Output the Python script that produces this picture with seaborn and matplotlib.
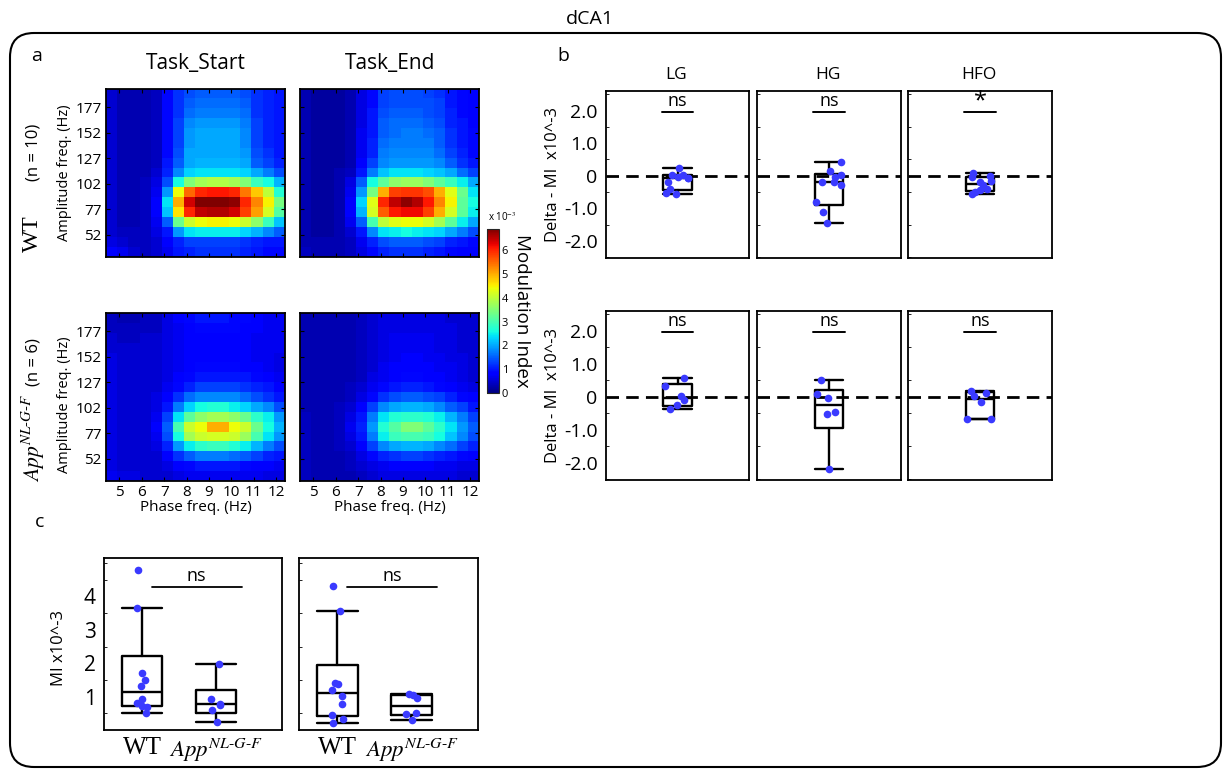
import numpy as np
import pandas as pd
import matplotlib
matplotlib.use("Agg")
import matplotlib.pyplot as plt
import seaborn as sns
from matplotlib.patches import FancyBboxPatch
from matplotlib.transforms import IdentityTransform

# ---------------- data ----------------
phase_ticks = [5, 6, 7, 8, 9, 10, 11, 12]
amp_ticks = [177, 152, 127, 102, 77, 52]
phase_range = (4.4, 12.4)
amp_range = (30, 195)

# comodulograms (rows: high -> low amplitude freq, cols: low -> high phase freq), MI x10^-3
wt_start = [
    [0.5,0.3,0.3,0.3,0.4,0.9,1.2,1.4,1.5,1.5,1.5,1.5,1.4,1.2,1.1,1.0],
    [0.5,0.3,0.3,0.3,0.4,0.9,1.2,1.5,1.6,1.6,1.6,1.6,1.5,1.2,1.1,1.0],
    [0.5,0.3,0.3,0.3,0.4,0.9,1.2,1.6,1.7,1.7,1.7,1.7,1.6,1.2,1.1,1.0],
    [0.5,0.3,0.3,0.3,0.4,0.9,1.3,1.8,1.9,1.9,1.9,1.9,1.7,1.3,1.1,1.0],
    [0.5,0.3,0.3,0.3,0.4,0.9,1.3,1.9,2.0,2.0,2.0,2.0,1.8,1.3,1.1,1.0],
    [0.5,0.3,0.3,0.3,0.4,0.9,1.3,1.9,2.0,2.0,2.0,2.0,1.8,1.3,1.1,1.0],
    [0.5,0.3,0.3,0.3,0.4,0.9,1.4,2.0,2.0,2.0,2.0,2.0,1.9,1.4,1.2,1.0],
    [0.5,0.3,0.3,0.3,0.4,1.0,1.5,2.0,2.1,2.1,2.1,2.1,2.0,1.5,1.3,1.1],
    [0.5,0.3,0.3,0.3,0.5,1.1,1.8,2.3,2.4,2.4,2.4,2.4,2.3,2.0,1.7,1.4],
    [0.5,0.3,0.3,0.4,0.6,1.4,2.6,3.5,3.8,3.9,3.9,3.8,3.5,2.9,2.6,2.1],
    [0.5,0.3,0.3,0.4,0.7,1.9,4.4,5.5,6.0,6.1,6.1,6.0,5.4,4.8,4.0,2.7],
    [0.5,0.3,0.3,0.4,0.8,2.4,5.0,6.4,6.9,6.9,6.9,6.8,6.0,5.3,4.5,3.4],
    [0.5,0.3,0.3,0.4,0.8,2.2,4.6,6.0,6.5,6.6,6.6,6.4,5.8,5.1,4.2,3.1],
    [0.5,0.3,0.3,0.4,0.7,1.5,3.3,4.1,4.4,4.5,4.5,4.4,4.1,3.6,2.9,2.2],
    [0.5,0.4,0.4,0.4,0.6,1.0,1.9,2.4,2.5,2.5,2.5,2.5,2.3,2.1,1.8,1.5],
    [0.6,0.5,0.4,0.4,0.5,0.8,1.1,1.3,1.3,1.3,1.3,1.3,1.2,1.1,1.0,1.0],
    [0.8,0.7,0.5,0.4,0.5,0.7,1.0,1.1,1.2,1.2,1.2,1.2,1.1,1.0,0.9,0.9],
]
wt_end = [
    [0.3,0.2,0.2,0.2,0.3,0.6,0.9,1.3,1.4,1.4,1.4,1.3,1.2,1.0,0.9,0.8],
    [0.3,0.2,0.2,0.2,0.3,0.6,0.9,1.3,1.4,1.4,1.4,1.4,1.3,1.0,0.9,0.8],
    [0.3,0.2,0.2,0.2,0.3,0.6,1.0,1.4,1.5,1.5,1.5,1.4,1.3,1.1,0.9,0.8],
    [0.3,0.2,0.2,0.2,0.3,0.6,1.0,1.5,1.6,1.6,1.6,1.5,1.4,1.1,1.0,0.8],
    [0.3,0.2,0.2,0.2,0.3,0.7,1.0,1.5,1.6,1.7,1.7,1.6,1.5,1.2,1.0,0.9],
    [0.3,0.2,0.2,0.2,0.3,0.7,1.1,1.6,1.7,1.7,1.7,1.7,1.5,1.2,1.0,0.9],
    [0.3,0.2,0.2,0.2,0.3,0.7,1.1,1.7,1.8,1.8,1.8,1.8,1.6,1.3,1.1,0.9],
    [0.3,0.2,0.2,0.2,0.3,0.8,1.3,1.8,1.9,1.9,1.9,1.9,1.8,1.5,1.2,1.0],
    [0.3,0.2,0.2,0.3,0.4,1.0,1.7,2.2,2.4,2.4,2.4,2.3,2.2,2.0,1.6,1.3],
    [0.3,0.2,0.2,0.3,0.6,1.5,2.6,3.2,3.6,3.7,3.7,3.5,3.2,2.9,2.5,2.0],
    [0.3,0.2,0.2,0.3,0.7,1.9,3.4,5.0,5.8,5.9,5.9,5.7,5.0,4.3,3.3,2.4],
    [0.3,0.2,0.2,0.3,0.8,2.3,4.3,6.0,6.5,6.8,6.6,6.1,5.3,4.5,3.2,2.6],
    [0.3,0.2,0.2,0.3,0.8,2.1,4.2,5.6,6.1,6.2,6.2,5.8,5.0,4.2,3.2,2.5],
    [0.3,0.2,0.2,0.3,0.7,1.5,3.0,4.0,4.3,4.4,4.4,4.2,3.8,3.2,2.5,2.0],
    [0.3,0.2,0.2,0.3,0.5,1.0,1.8,2.4,2.5,2.6,2.5,2.4,2.3,2.0,1.7,1.4],
    [0.3,0.3,0.3,0.3,0.4,0.7,1.1,1.4,1.5,1.5,1.5,1.4,1.3,1.1,1.0,0.9],
    [0.4,0.3,0.3,0.3,0.4,0.6,0.9,1.1,1.2,1.2,1.2,1.1,1.0,0.9,0.8,0.8],
]
app_start = [
    [0.4,0.3,0.3,0.4,0.4,0.6,0.8,0.9,1.0,1.0,1.0,0.9,0.9,0.8,0.7,0.7],
    [0.4,0.4,0.4,0.4,0.4,0.6,0.7,0.8,0.9,0.9,0.9,0.9,0.8,0.8,0.7,0.7],
    [0.5,0.4,0.4,0.5,0.5,0.6,0.7,0.8,0.8,0.8,0.8,0.8,0.8,0.7,0.7,0.7],
    [0.5,0.5,0.5,0.5,0.5,0.6,0.7,0.8,0.8,0.8,0.8,0.8,0.8,0.7,0.7,0.7],
    [0.6,0.5,0.5,0.5,0.5,0.6,0.7,0.8,0.8,0.8,0.8,0.8,0.8,0.7,0.7,0.6],
    [0.6,0.5,0.5,0.5,0.5,0.6,0.7,0.8,0.9,0.9,0.9,0.9,0.8,0.8,0.7,0.6],
    [0.6,0.5,0.5,0.5,0.5,0.6,0.8,0.9,1.0,1.0,1.0,1.0,1.0,0.9,0.8,0.7],
    [0.6,0.5,0.5,0.5,0.5,0.7,0.9,1.1,1.3,1.3,1.3,1.3,1.2,1.1,1.0,0.8],
    [0.6,0.5,0.5,0.5,0.6,0.8,1.2,1.6,1.8,1.8,1.8,1.8,1.6,1.4,1.2,1.0],
    [0.6,0.5,0.5,0.5,0.6,1.0,1.7,2.3,2.6,2.7,2.7,2.5,2.3,2.0,1.8,1.4],
    [0.6,0.5,0.5,0.5,0.7,1.3,2.4,3.2,3.6,3.8,3.8,3.6,3.3,2.8,2.5,1.9],
    [0.6,0.5,0.5,0.5,0.8,1.5,3.0,4.1,4.4,5.0,5.0,4.4,4.1,3.3,2.6,2.1],
    [0.6,0.5,0.5,0.5,0.7,1.4,2.6,3.8,4.1,4.2,4.2,4.1,3.7,3.0,2.4,1.9],
    [0.6,0.5,0.5,0.5,0.6,1.1,1.9,2.5,2.8,2.9,2.9,2.7,2.5,2.1,1.7,1.4],
    [0.6,0.5,0.5,0.5,0.5,0.8,1.2,1.5,1.7,1.7,1.7,1.6,1.5,1.3,1.1,1.0],
    [0.6,0.5,0.5,0.5,0.5,0.6,0.8,0.9,1.0,1.0,1.0,1.0,0.9,0.8,0.8,0.7],
    [0.7,0.6,0.6,0.5,0.5,0.5,0.6,0.7,0.7,0.7,0.7,0.7,0.7,0.7,0.6,0.6],
]
app_end = [
    [0.3,0.3,0.3,0.3,0.3,0.4,0.5,0.6,0.6,0.6,0.6,0.6,0.6,0.5,0.5,0.5],
    [0.3,0.3,0.3,0.3,0.3,0.4,0.5,0.6,0.6,0.6,0.6,0.6,0.6,0.6,0.5,0.5],
    [0.3,0.3,0.3,0.3,0.3,0.4,0.5,0.6,0.7,0.7,0.7,0.7,0.6,0.6,0.5,0.5],
    [0.3,0.3,0.3,0.3,0.3,0.4,0.5,0.6,0.7,0.7,0.7,0.7,0.6,0.6,0.5,0.5],
    [0.3,0.3,0.3,0.3,0.3,0.4,0.5,0.6,0.7,0.8,0.8,0.7,0.7,0.6,0.6,0.5],
    [0.3,0.3,0.3,0.3,0.3,0.4,0.5,0.7,0.8,0.8,0.8,0.8,0.7,0.7,0.6,0.5],
    [0.3,0.3,0.3,0.3,0.3,0.4,0.6,0.7,0.8,0.9,0.9,0.8,0.8,0.7,0.6,0.5],
    [0.3,0.3,0.3,0.3,0.4,0.5,0.7,0.9,1.0,1.1,1.1,1.0,0.9,0.8,0.7,0.6],
    [0.3,0.3,0.3,0.3,0.4,0.6,0.9,1.2,1.4,1.5,1.5,1.4,1.3,1.1,0.9,0.8],
    [0.3,0.3,0.3,0.4,0.5,0.8,1.3,1.8,2.0,2.1,2.1,2.0,1.8,1.5,1.3,1.0],
    [0.4,0.3,0.3,0.4,0.6,1.0,1.7,2.4,2.7,2.8,2.8,2.7,2.5,2.1,1.7,1.3],
    [0.4,0.3,0.3,0.4,0.7,1.1,1.9,2.7,3.1,3.5,3.5,3.2,2.8,2.4,1.9,1.5],
    [0.4,0.3,0.3,0.4,0.6,1.0,1.7,2.5,2.9,3.0,3.0,2.9,2.6,2.2,1.8,1.4],
    [0.4,0.3,0.3,0.4,0.5,0.8,1.3,1.8,2.0,2.1,2.1,2.0,1.8,1.6,1.3,1.1],
    [0.4,0.3,0.3,0.3,0.4,0.6,0.9,1.1,1.2,1.3,1.3,1.2,1.1,1.0,0.9,0.8],
    [0.4,0.3,0.3,0.3,0.4,0.5,0.6,0.7,0.8,0.8,0.8,0.8,0.7,0.7,0.6,0.6],
    [0.4,0.3,0.3,0.3,0.3,0.4,0.5,0.6,0.6,0.6,0.6,0.6,0.6,0.6,0.5,0.5],
]
cbar_ticks = [0, 1, 2, 3, 4, 5, 6]
mi_max = 6.9

# panel b: Delta MI (x10^-3)
bands = ["LG", "HG", "HFO"]
delta_wt = {
    "LG":  [0.25, 0.03, 0.03, -0.05, -0.06, -0.08, -0.20, -0.40, -0.52, -0.55],
    "HG":  [0.42, 0.15, 0.02, -0.05, -0.18, -0.18, -0.27, -0.80, -1.12, -1.45],
    "HFO": [0.10, 0.00, -0.05, -0.15, -0.20, -0.28, -0.40, -0.44, -0.50, -0.57],
}
delta_app = {
    "LG":  [0.57, 0.33, 0.02, -0.10, -0.25, -0.38],
    "HG":  [0.50, 0.10, -0.05, -0.45, -0.53, -2.18],
    "HFO": [0.17, 0.12, 0.02, -0.15, -0.68, -0.68],
}
sig_wt = {"LG": "ns", "HG": "ns", "HFO": "*"}
sig_app = {"LG": "ns", "HG": "ns", "HFO": "ns"}
delta_ticks = [2.0, 1.0, 0.0, -1.0, -2.0]
delta_ticklabels = ["2.0", "1.0", "0", "-1.0", "-2.0"]

# panel c: MI (x10^-3)
groups = ["WT", "App"]
mi_start_wt = [4.8, 3.65, 1.72, 1.5, 1.32, 0.94, 0.8, 0.72, 0.68, 0.52]
mi_start_app = [1.98, 0.94, 0.76, 0.78, 0.6, 0.25]
mi_end_wt = [4.3, 3.55, 1.42, 1.38, 1.2, 1.03, 0.79, 0.46, 0.34, 0.22]
mi_end_app = [1.07, 1.05, 0.96, 0.5, 0.48, 0.3]
mi_ticks = [1, 2, 3, 4]

# ---------------- style ----------------
W, H = 1224, 769
sns.set_theme(style="white")
plt.rcParams['font.family'] = ['Open Sans', 'DejaVu Sans']
plt.rcParams['mathtext.fontset'] = 'stix'
for k in ("text.color", "axes.labelcolor", "xtick.color", "ytick.color"):
    plt.rcParams[k] = "black"
PT_COLOR = "#3a3aff"

fig = plt.figure(figsize=(W / 100, H / 100), dpi=100)
fig.patch.set_facecolor("white")


def ax_px(x0, y0, x1, y1):
    return fig.add_axes([x0 / W, 1 - y1 / H, (x1 - x0) / W, (y1 - y0) / H])


def txt(x, y, s, **kw):
    kw.setdefault("ha", "center")
    kw.setdefault("va", "center")
    return fig.text(x / W, 1 - y / H, s, **kw)


def frame(ax, lw=1.3):
    for sp in ax.spines.values():
        sp.set_visible(True)
        sp.set_color("black")
        sp.set_linewidth(lw)


def box_stats(vals):
    v = np.sort(np.asarray(vals, float))
    q1, med, q3 = np.percentile(v, [25, 50, 75], method="weibull")
    iqr = q3 - q1
    lo = v[v >= q1 - 1.5 * iqr].min()
    hi = v[v <= q3 + 1.5 * iqr].max()
    return dict(med=med, q1=q1, q3=q3, whislo=lo, whishi=hi, fliers=[])


def draw_box(ax, datasets, positions, width):
    stats = [box_stats(d) for d in datasets]
    lp = dict(color="black", linewidth=1.7)
    ax.bxp(stats, positions=positions, widths=width, capwidths=width,
           showfliers=False, boxprops=lp, whiskerprops=lp, capprops=lp,
           medianprops=lp, manage_ticks=False)


# outer rounded frame + title
fig.add_artist(FancyBboxPatch((10, H - 767), 1211, 734,
                              boxstyle="round,pad=0,rounding_size=24",
                              transform=IdentityTransform(), fill=False,
                              edgecolor="black", linewidth=1.5))
txt(590, 19, "dCA1", fontsize=14)

# ---------------- panel a ----------------
txt(37, 56, "a", fontsize=14)
maps = [[wt_start, wt_end], [app_start, app_end]]
xcols = [(106, 285), (300, 479)]
yrows = [(89, 257), (313, 481)]
im = None
for r in range(2):
    for c in range(2):
        ax = ax_px(xcols[c][0], yrows[r][0], xcols[c][1], yrows[r][1])
        im = ax.imshow(np.array(maps[r][c]), cmap="jet", vmin=0, vmax=mi_max,
                       extent=(phase_range[0], phase_range[1], amp_range[0], amp_range[1]),
                       aspect="auto", interpolation="nearest", origin="upper")
        ax.set_xticks(phase_ticks)
        ax.set_yticks(amp_ticks)
        ax.tick_params(direction="in", length=3, width=0.8, color="black",
                       top=True, right=True, bottom=True, left=True,
                       labelsize=11, pad=3)
        if r == 0:
            ax.set_xticklabels([])
        else:
            ax.set_xticklabels([str(t) for t in phase_ticks])
            ax.set_xlabel("Phase freq. (Hz)", fontsize=11, labelpad=0)
        if c == 1:
            ax.set_yticklabels([])
        else:
            ax.set_yticklabels([str(t) for t in amp_ticks])
        frame(ax, 1.3)
txt(196, 64, "Task_Start", fontsize=15)
txt(390, 64, "Task_End", fontsize=15)
txt(65, 173, "Amplitude freq. (Hz)", fontsize=10.5, rotation=90)
txt(65, 405, "Amplitude freq. (Hz)", fontsize=10.5, rotation=90)
txt(32, 234, "WT", fontsize=17, rotation=90, family="Liberation Serif")
txt(33, 152, "(n = 10)", fontsize=12, rotation=90)
txt(33, 438, r"$App^{NL\text{-}G\text{-}F}$", fontsize=15.5, rotation=90)
txt(33, 362, "(n = 6)", fontsize=12, rotation=90)

# colorbar
cax = ax_px(487, 229, 499, 393)
cb = fig.colorbar(im, cax=cax, ticks=cbar_ticks)
cb.outline.set_linewidth(0.8)
cax.tick_params(labelsize=8, length=2, direction="in", right=True, left=True, pad=2)
txt(488, 218, r"x 10$^{-3}$", fontsize=7, ha="left")
txt(522, 311, "Modulation Index", fontsize=13.5, rotation=270)

# ---------------- panel b ----------------
txt(563, 56, "b", fontsize=14)
bx = [(606, 749), (757, 901), (908, 1052)]
by = [(91, 258), (311, 480)]
for r, (dset, sig) in enumerate([(delta_wt, sig_wt), (delta_app, sig_app)]):
    for c, band in enumerate(bands):
        ax = ax_px(bx[c][0], by[r][0], bx[c][1], by[r][1])
        ax.axhline(0, color="black", lw=2, ls=(0, (4.5, 2.6)), zorder=1)
        draw_box(ax, [dset[band]], [0], 0.2)
        np.random.seed(3 + 7 * r + c)
        sns.stripplot(y=dset[band], ax=ax, color=PT_COLOR, size=5.5,
                      jitter=0.09, zorder=4, linewidth=0)
        ax.set_xlim(-0.5, 0.5)
        ax.set_ylim(-2.52, 2.6)
        ax.set_xticks([])
        ax.set_yticks(delta_ticks)
        ax.set_yticks(np.arange(-2.5, 2.6, 0.5), minor=True)
        ax.tick_params(axis="y", which="major", direction="in", length=0,
                       left=True, labelsize=14, pad=6)
        ax.tick_params(axis="y", which="minor", direction="in", length=2,
                       width=0.6, left=True)
        if c == 0:
            ax.set_yticklabels(delta_ticklabels)
        else:
            ax.set_yticklabels([])
        ax.set_xlabel("")
        ax.set_ylabel("")
        ax.plot([-0.11, 0.11], [1.97, 1.97], color="black", lw=1.4)
        if sig[band] == "*":
            ax.text(0, 2.27, "*", ha="center", va="center", fontsize=17)
        else:
            ax.text(0, 2.02, sig[band], ha="center", va="bottom", fontsize=13)
        frame(ax, 1.3)
        if r == 0:
            txt((bx[c][0] + bx[c][1]) / 2 - 1, 75, band, fontsize=12.5)
txt(553, 174, "Delta - MI  x10^-3", fontsize=12, rotation=90)
txt(553, 395, "Delta - MI  x10^-3", fontsize=12, rotation=90)

# ---------------- panel c ----------------
txt(40, 522, "c", fontsize=14)
cx = [(104, 282), (299, 478)]
cdata = [(mi_start_wt, mi_start_app), (mi_end_wt, mi_end_app)]
for i, (wt, app) in enumerate(cdata):
    ax = ax_px(cx[i][0], 558, cx[i][1], 730)
    draw_box(ax, [wt, app], [0, 1], 0.55)
    df = pd.DataFrame({"group": ["WT"] * len(wt) + ["App"] * len(app),
                       "mi": list(wt) + list(app)})
    np.random.seed(11 + i)
    sns.stripplot(data=df, x="group", y="mi", order=groups, ax=ax,
                  color=PT_COLOR, size=5.5, jitter=0.08, zorder=4, linewidth=0)
    ax.set_xlim(-0.52, 1.9)
    ax.set_ylim(0, 5.15)
    ax.set_xlabel("")
    ax.set_ylabel("")
    ax.set_xticks([0, 1])
    ax.set_xticklabels(["WT", r"$App^{NL\text{-}G\text{-}F}$"])
    labs = ax.get_xticklabels()
    labs[0].set_fontfamily("Liberation Serif")
    labs[0].set_fontsize(18)
    labs[1].set_fontsize(16.5)
    ax.tick_params(axis="x", length=0, pad=5)
    ax.set_yticks(mi_ticks)
    ax.set_yticks(np.arange(0.5, 5.1, 0.5), minor=True)
    ax.tick_params(axis="y", which="minor", direction="in", length=2, width=0.6, left=True)
    if i == 0:
        ax.set_yticklabels([str(t) for t in mi_ticks])
        ax.tick_params(axis="y", which="major", length=0, labelsize=15, pad=6)
    else:
        ax.set_yticklabels([])
        ax.tick_params(axis="y", which="major", length=0)
    ax.plot([0.13, 1.35], [4.27, 4.27], color="black", lw=1.3)
    ax.text(0.74, 4.33, "ns", ha="center", va="bottom", fontsize=13)
    frame(ax, 1.3)
txt(59, 648, "MI x10^-3", fontsize=12, rotation=90)

fig.savefig("out.png", dpi=100, facecolor="white")
